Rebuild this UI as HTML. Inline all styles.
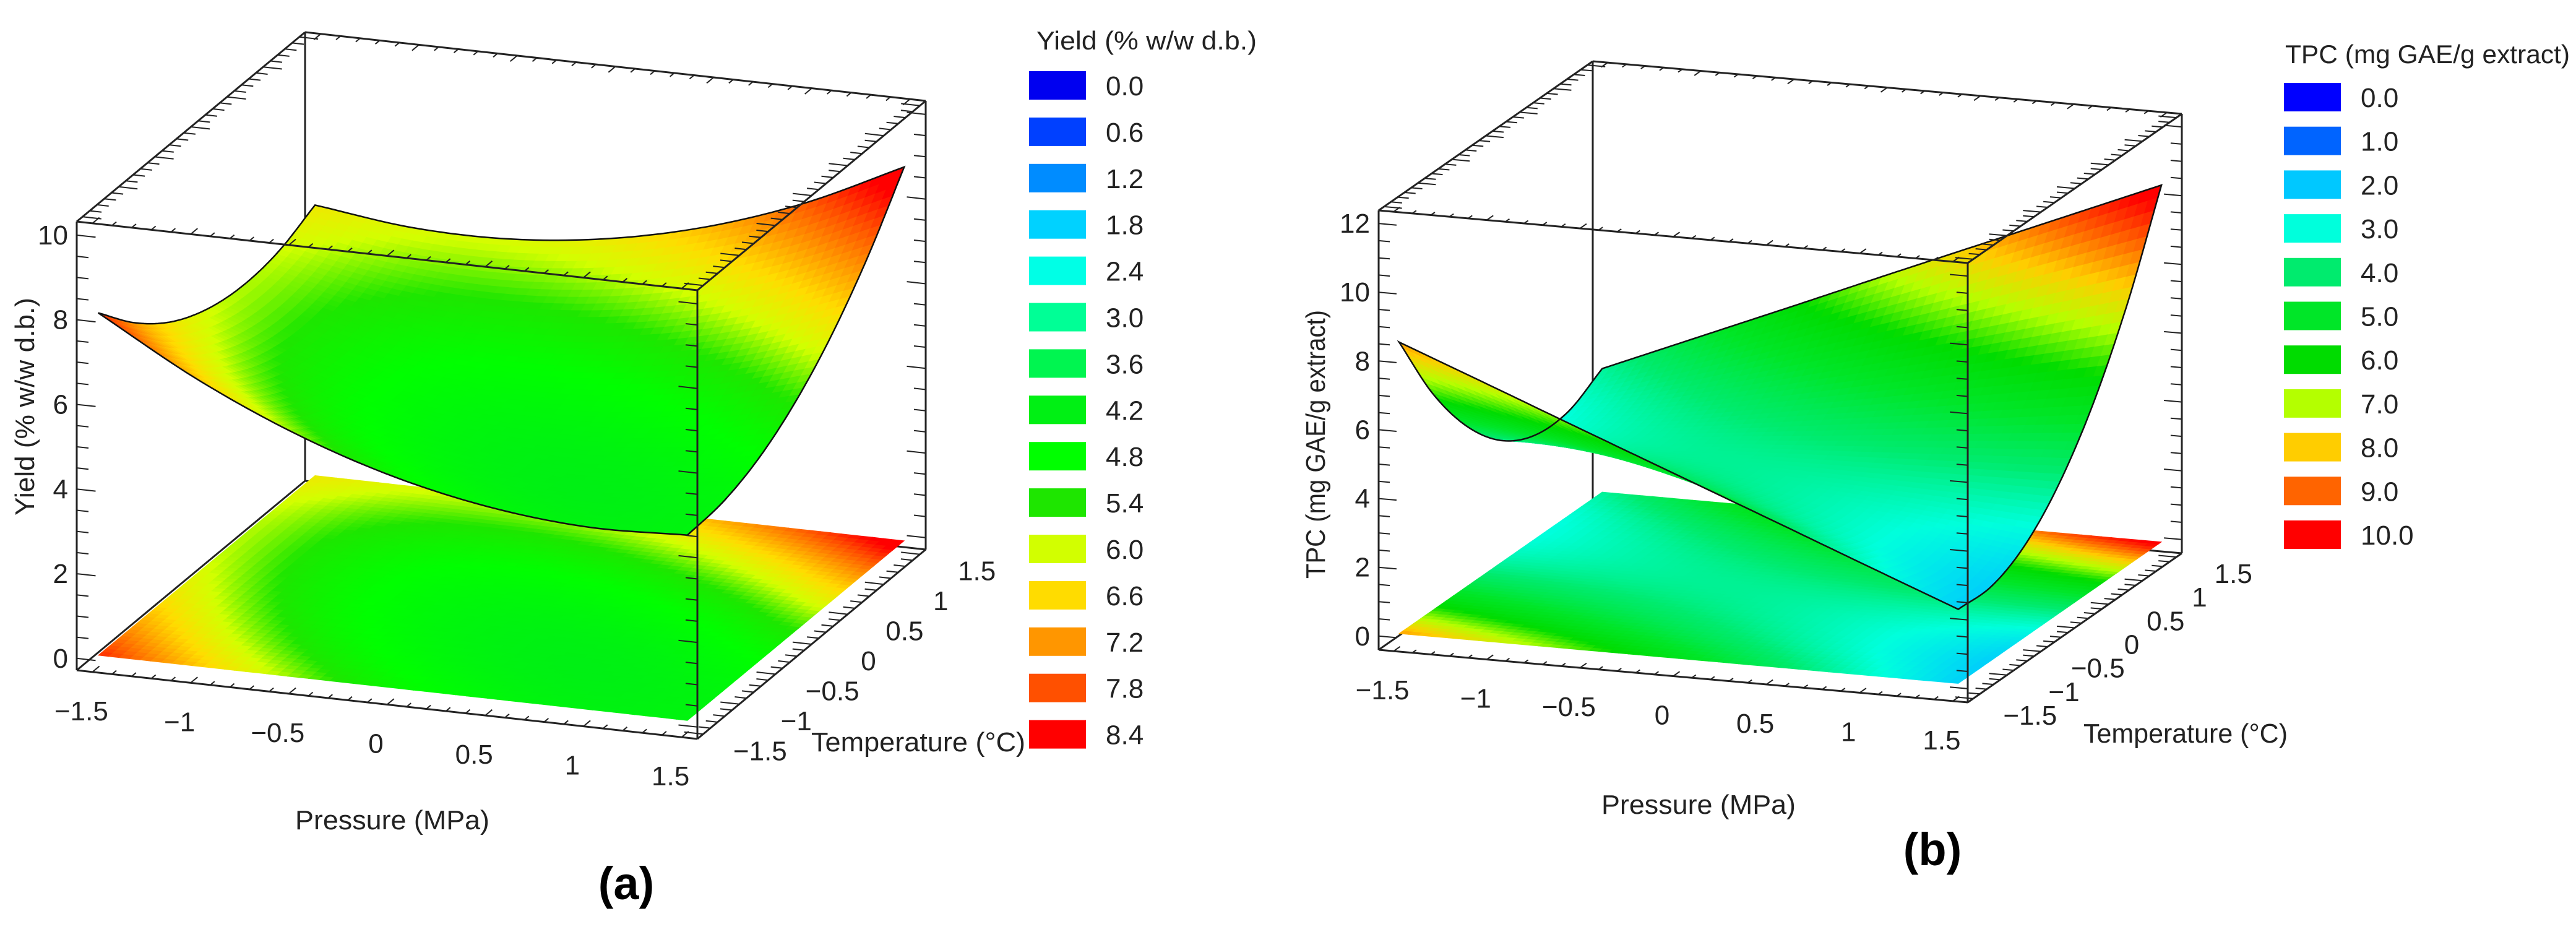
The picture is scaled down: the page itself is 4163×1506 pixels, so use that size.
<!DOCTYPE html>
<html><head><meta charset="utf-8">
<style>
html,body{margin:0;padding:0;background:#fff;}
svg{display:block;}
text{font-family:"Liberation Sans",Arial,sans-serif;fill:#222;}
</style></head>
<body>
<svg id="chart" width="4163" height="1506" viewBox="0 0 4163 1506" xmlns="http://www.w3.org/2000/svg">
<g id="panelA"></g>
<g id="panelB"></g>
<text x="1012" y="1453" text-anchor="middle" font-size="74" font-weight="bold" style="fill:#000">(a)</text>
<text x="3123" y="1398" text-anchor="middle" font-size="74" font-weight="bold" style="fill:#000">(b)</text>
</svg>
<script>
// ---- data ----
const P_VALS = [-1.5, -1, -0.5, 0, 0.5, 1, 1.5];
const T_VALS = [-1.5, -1, -0.5, 0, 0.5, 1, 1.5];
// rows = temperature (T_VALS), cols = pressure (P_VALS)
const YIELD_GRID = [
  [8.09, 6.79, 5.76, 5.00, 4.52, 4.31, 4.38],
  [7.15, 6.01, 5.15, 4.57, 4.26, 4.23, 4.47],
  [6.46, 5.50, 4.81, 4.40, 4.26, 4.40, 4.81],
  [6.05, 5.26, 4.74, 4.50, 4.53, 4.84, 5.42],
  [5.90, 5.28, 4.93, 4.86, 5.06, 5.54, 6.29],
  [6.01, 5.56, 5.38, 5.48, 5.85, 6.50, 7.43],
  [6.39, 6.11, 6.10, 6.37, 6.91, 7.73, 8.83]
];
const TPC_GRID = [
  [8.48, 7.43, 6.37, 5.32, 4.27, 3.21, 2.16],
  [6.29, 5.60, 4.91, 4.23, 3.54, 2.85, 2.16],
  [4.66, 4.33, 4.01, 3.68, 3.35, 3.03, 2.70],
  [3.56, 3.60, 3.64, 3.68, 3.72, 3.76, 3.80],
  [3.02, 3.42, 3.83, 4.23, 4.63, 5.04, 5.44],
  [3.03, 3.80, 4.57, 5.34, 6.10, 6.87, 7.64],
  [3.59, 4.72, 5.85, 6.99, 8.12, 9.25, 10.38]
];
const LEGEND_A_VALUES = [0.0, 0.6, 1.2, 1.8, 2.4, 3.0, 3.6, 4.2, 4.8, 5.4, 6.0, 6.6, 7.2, 7.8, 8.4];
const LEGEND_A_LABELS = ["0.0","0.6","1.2","1.8","2.4","3.0","3.6","4.2","4.8","5.4","6.0","6.6","7.2","7.8","8.4"];
const LEGEND_A_COLORS = ["#0000f0","#0040ff","#008cff","#00d2ff","#00ffe6","#00ff96","#00f550","#00f014","#00ff00","#1ee600","#d2ff00","#ffdc00","#ff9600","#ff5000","#ff0000"];
const LEGEND_B_VALUES = [0, 1, 2, 3, 4, 5, 6, 7, 8, 9, 10];
const LEGEND_B_LABELS = ["0.0","1.0","2.0","3.0","4.0","5.0","6.0","7.0","8.0","9.0","10.0"];
const LEGEND_B_COLORS = ["#0000ff","#0064ff","#00c8ff","#00ffdc","#00eb6e","#00e628","#00dc00","#b4ff00","#ffcd00","#ff6400","#ff0000"];
const Z_TICKS_A = [0, 2, 4, 6, 8, 10];
const Z_TICKS_B = [0, 2, 4, 6, 8, 10, 12];
const P_TICKS = [-1.5, -1, -0.5, 0, 0.5, 1, 1.5];
const P_TICK_LABELS = ["\u22121.5","\u22121","\u22120.5","0","0.5","1","1.5"];
const T_TICKS = [-1.5, -1, -0.5, 0, 0.5, 1, 1.5];
const T_TICK_LABELS = ["\u22121.5","\u22121","\u22120.5","0","0.5","1","1.5"];

// ---- layout ----
const NS = "http://www.w3.org/2000/svg";
const PANEL_A = {g: document.getElementById('panelA'), origin:[124,1083], pv:[1003,111], tv:[369,-306], zh:725,
  pr:[-1.58,1.58], tr:[-1.58,1.58], zr:[-0.28,10.32], grid:YIELD_GRID, lv:LEGEND_A_VALUES, lc:LEGEND_A_COLORS,
  ll:LEGEND_A_LABELS, zt:Z_TICKS_A, legX:1663, legY0:138, legDy:74.9, legTitle:"Yield (% w/w d.b.)", legTitleX:1675, legTitleY:80, legTitleW:356,
  zTitle:"Yield (% w/w d.b.)", zTitleX:55, zTitleY:657, zTitleW:352,
  pTitleX:634, pTitleY:1340, pTitleW:314, tTitleX:1311, tTitleY:1214, tTitleW:346};
const PANEL_B = {g: document.getElementById('panelB'), origin:[2228,1050], pv:[952,85], tv:[346,-241], zh:710,
  pr:[-1.58,1.58], tr:[-1.58,1.58], zr:[-0.4,12.38], grid:TPC_GRID, lv:LEGEND_B_VALUES, lc:LEGEND_B_COLORS,
  ll:LEGEND_B_LABELS, zt:Z_TICKS_B, legX:3691, legY0:157, legDy:70.7, legTitle:"TPC (mg GAE/g extract)", legTitleX:3693, legTitleY:102, legTitleW:460,
  zTitle:"TPC (mg GAE/g extract)", zTitleX:2141, zTitleY:718, zTitleW:434,
  pTitleX:2745, pTitleY:1315, pTitleW:314, tTitleX:3367, tTitleY:1200, tTitleW:330};

function hex2rgb(h){return [parseInt(h.substr(1,2),16),parseInt(h.substr(3,2),16),parseInt(h.substr(5,2),16)];}
function colorFor(v, vals, cols){
  if (v <= vals[0]) return cols[0];
  if (v >= vals[vals.length-1]) return cols[cols.length-1];
  for (let i=0;i<vals.length-1;i++){
    if (v>=vals[i] && v<=vals[i+1]){
      const f=(v-vals[i])/(vals[i+1]-vals[i]);
      const a=hex2rgb(cols[i]), b=hex2rgb(cols[i+1]);
      return 'rgb('+Math.round(a[0]+(b[0]-a[0])*f)+','+Math.round(a[1]+(b[1]-a[1])*f)+','+Math.round(a[2]+(b[2]-a[2])*f)+')';
    }
  }
  return cols[0];
}
// Catmull-Rom interpolation of a 1D array at fractional index f
function cr1(arr, f){
  const n=arr.length;
  const get=k=> k<0 ? 2*arr[0]-arr[1] : (k>n-1 ? 2*arr[n-1]-arr[n-2] : arr[k]);
  let i=Math.min(Math.max(Math.floor(f),0),n-2); const u=f-i;
  const p0=get(i-1),p1=get(i),p2=get(i+1),p3=get(i+2);
  return 0.5*((2*p1)+(-p0+p2)*u+(2*p0-5*p1+4*p2-p3)*u*u+(-p0+3*p1-3*p2+p3)*u*u*u);
}
function interp(grid, p, t){
  const fi=(p-P_VALS[0])/(P_VALS[1]-P_VALS[0]), fj=(t-T_VALS[0])/(T_VALS[1]-T_VALS[0]);
  const col=grid.map(row=>cr1(row,fi));
  return cr1(col,fj);
}
function proj(P,p,t,z){
  const fp=(p-P.pr[0])/(P.pr[1]-P.pr[0]), ft=(t-P.tr[0])/(P.tr[1]-P.tr[0]), fz=(z-P.zr[0])/(P.zr[1]-P.zr[0]);
  return [P.origin[0]+fp*P.pv[0]+ft*P.tv[0], P.origin[1]+fp*P.pv[1]+ft*P.tv[1]-fz*P.zh];
}
function mk(tag, parent){const e=document.createElementNS(NS,tag); parent.appendChild(e); return e;}
function line(parent,a,b,w,col){
  const l=mk('line',parent);
  l.setAttribute('x1',a[0].toFixed(1));l.setAttribute('y1',a[1].toFixed(1));
  l.setAttribute('x2',b[0].toFixed(1));l.setAttribute('y2',b[1].toFixed(1));
  l.setAttribute('stroke',col||'#222');l.setAttribute('stroke-width',w||3);
  return l;
}
function txt(parent,x,y,s,size,anchor){
  const t=mk('text',parent);
  t.setAttribute('x',x);t.setAttribute('y',y);t.setAttribute('font-size',size);
  t.setAttribute('text-anchor',anchor||'middle');t.textContent=s;return t;
}

function drawPanel(P){
  const g=P.g;
  const [p0,p1]=P.pr,[t0,t1]=P.tr,[z0,z1]=P.zr;
  const C=(p,t,z)=>proj(P,p,t,z);
  const back=mk('g',g);
  
  
  line(back,C(p0,t1,z0),C(p0,t1,z1),3);
  line(back,C(p0,t0,z0),C(p0,t1,z0),3);
  line(back,C(p0,t1,z0),C(p1,t1,z0),3);
  const N=56;
  const floor=mk('g',g);
  
  
  for (let j=N-1;j>=0;j--){
    for (let i=0;i<N;i++){
      const pa=-1.5+3*i/N, pb=-1.5+3*(i+1)/N, ta=-1.5+3*j/N, tb=-1.5+3*(j+1)/N;
      const v=interp(P.grid,(pa+pb)/2,(ta+tb)/2);
      const pts=[C(pa,ta,0),C(pb,ta,0),C(pb,tb,0),C(pa,tb,0)];
      const q=mk('polygon',floor);
      q.setAttribute('points',pts.map(a=>a[0].toFixed(1)+','+a[1].toFixed(1)).join(' '));
      const c=colorFor(v,P.lv,P.lc);
      q.setAttribute('fill',c);q.setAttribute('stroke',c);q.setAttribute('stroke-width','0.8');
    }
  }
  const surf=mk('g',g);
  
  
  for (let j=N-1;j>=0;j--){
    for (let i=0;i<N;i++){
      const pa=-1.5+3*i/N, pb=-1.5+3*(i+1)/N, ta=-1.5+3*j/N, tb=-1.5+3*(j+1)/N;
      const v=interp(P.grid,(pa+pb)/2,(ta+tb)/2);
      const pts=[C(pa,ta,interp(P.grid,pa,ta)),C(pb,ta,interp(P.grid,pb,ta)),C(pb,tb,interp(P.grid,pb,tb)),C(pa,tb,interp(P.grid,pa,tb))];
      const q=mk('polygon',surf);
      q.setAttribute('points',pts.map(a=>a[0].toFixed(1)+','+a[1].toFixed(1)).join(' '));
      const c=colorFor(v,P.lv,P.lc);
      q.setAttribute('fill',c);q.setAttribute('stroke',c);q.setAttribute('stroke-width','0.8');
    }
  }
  const M=80; let d='';
  const edge=[];
  for (let k=0;k<=M;k++) edge.push([-1.5+3*k/M,-1.5]);
  for (let k=1;k<=M;k++) edge.push([1.5,-1.5+3*k/M]);
  for (let k=1;k<=M;k++) edge.push([1.5-3*k/M,1.5]);
  for (let k=1;k<=M;k++) edge.push([-1.5,1.5-3*k/M]);
  edge.forEach((e,k)=>{const a=C(e[0],e[1],interp(P.grid,e[0],e[1])); d+=(k?'L':'M')+a[0].toFixed(1)+' '+a[1].toFixed(1);});
  const outline=mk('path',g);
  outline.setAttribute('d',d+'Z');
  outline.setAttribute('fill','none');outline.setAttribute('stroke','#111');outline.setAttribute('stroke-width','2.5');
  
  
  const box=mk('g',g);
  
  
  const edges=[
    [[p0,t0,z0],[p1,t0,z0]],[[p1,t0,z0],[p1,t1,z0]],[[p1,t1,z0],[p1,t1,z1]],
    [[p0,t0,z0],[p0,t0,z1]],[[p1,t0,z0],[p1,t0,z1]],
    [[p0,t0,z1],[p1,t0,z1]],[[p1,t0,z1],[p1,t1,z1]],[[p1,t1,z1],[p0,t1,z1]],[[p0,t1,z1],[p0,t0,z1]]
  ];
  edges.forEach(e=>line(box,C(...e[0]),C(...e[1]),3));
  const tk=mk('g',g);
  
  
  const L=0.06;
  for (let k=0;k<=30;k++){
    const v=-1.5+k*0.1, major=(k%5===0), s=major?1.6:1;
    [[t0,z0,1],[t0,z1,1],[t1,z1,-1]].forEach(([t,z,sg])=>line(tk,C(v,t,z),C(v,t+sg*L*s,z),2));
    [[p1,z0,-1],[p1,z1,-1],[p0,z1,1]].forEach(([p,z,sg])=>line(tk,C(p,v,z),C(p+sg*L*s,v,z),2));
  }
  const zstep=P.zt[1]-P.zt[0];
  for (let z=P.zt[0]; z<=z1; z+=zstep/4){
    const major=Math.abs((z/zstep)-Math.round(z/zstep))<1e-6, s=major?1.6:1;
    [[p0,t0,1],[p1,t0,-1],[p1,t1,-1]].forEach(([p,t,sg])=>line(tk,C(p,t,z),C(p+sg*L*s,t,z),2));
  }
  const lab=mk('g',g);
  
  
  P.zt.forEach(z=>{const a=C(p0,t0,z); txt(lab,a[0]-14,a[1]+15,String(z),44,'end');});
  P_TICKS.forEach((p,k)=>{const a=C(p,t0,z0); txt(lab,a[0]-18,a[1]+78,P_TICK_LABELS[k],44,'middle');});
  T_TICKS.forEach((t,k)=>{const a=C(p1,t,z0); txt(lab,a[0]+92,a[1]+42,T_TICK_LABELS[k],44,'middle');});
  const zt=txt(g,0,0,P.zTitle,44,'middle');
  zt.setAttribute('transform','translate('+P.zTitleX+','+P.zTitleY+') rotate(-90)');
  zt.setAttribute('textLength',P.zTitleW);zt.setAttribute('lengthAdjust','spacingAndGlyphs');
  
  
  const pt=txt(g,P.pTitleX,P.pTitleY,'Pressure (MPa)',44,'middle');
  pt.setAttribute('textLength',P.pTitleW);pt.setAttribute('lengthAdjust','spacingAndGlyphs');
  
  
  const tt=txt(g,P.tTitleX,P.tTitleY,'Temperature (\u00B0C)',44,'start');
  tt.setAttribute('textLength',P.tTitleW);tt.setAttribute('lengthAdjust','spacingAndGlyphs');
  
  
  const leg=mk('g',g);
  
  
  const lt=txt(leg,P.legTitleX,P.legTitleY,P.legTitle,42,'start');
  lt.setAttribute('textLength',P.legTitleW);lt.setAttribute('lengthAdjust','spacingAndGlyphs');
  
  
  P.lv.forEach((v,k)=>{
    const cy=P.legY0+k*P.legDy;
    const r=mk('rect',leg);
    r.setAttribute('x',P.legX);r.setAttribute('y',cy-23);r.setAttribute('width',92);r.setAttribute('height',46);
    r.setAttribute('fill',P.lc[k]);
    
    
    const t=txt(leg,P.legX+124,cy+16,P.ll[k],44,'start');
    
    
  });
}
drawPanel(PANEL_A);
drawPanel(PANEL_B);
</script>
</body></html>
